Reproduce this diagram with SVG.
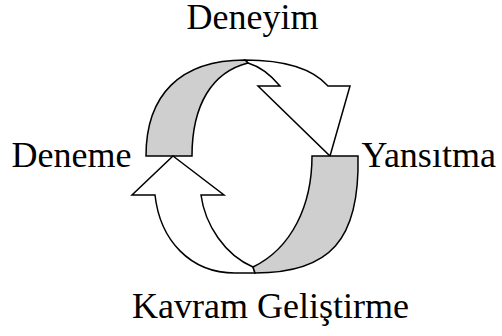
<svg xmlns="http://www.w3.org/2000/svg" width="502" height="336" viewBox="0 0 502 336">
<style>
.w{fill:#ffffff;stroke:#000000;stroke-width:1.5;stroke-linejoin:miter}
.g{fill:#cfcfcf;stroke:#000000;stroke-width:1.5;stroke-linejoin:miter}
.t{font-family:"Liberation Serif","Times New Roman",serif;font-size:36px;fill:#000000}
</style>
<rect width="502" height="336" fill="#ffffff"/>
<g id="connectors">
<g id="arrow-top">
<path class="w" d="M245,60 C282,60 312,68 328,86 L350,86 L330,156 L258,86 L280,86 C270,74 258,66 248,63 Z"/>
<path class="g" d="M146,156 C146,95 180,60 245,60 L248,63 C212,72 192,105 192,156 Z"/>
</g>
<g id="arrow-bottom">
<path class="w" d="M173,156 L224,195 L201,195 C205,225 225,255 253,267 L255,273 L235,273 C190,273 160,240 155,195 L132,195 Z"/>
<path class="g" d="M312,156 L358,156 C360,240 330,273 255,273 L253,267 C292,248 312,205 312,156 Z"/>
</g>
</g>
<g id="node-deneyim"><text class="t" x="252.5" y="29" text-anchor="middle">Deneyim</text></g>
<g id="node-deneme"><text class="t" x="11.5" y="167">Deneme</text></g>
<g id="node-yansitma"><text class="t" x="361.5" y="167">Yansıtma</text></g>
<g id="node-kavram"><text class="t" x="270.5" y="318" text-anchor="middle">Kavram Geliştirme</text></g>
</svg>
